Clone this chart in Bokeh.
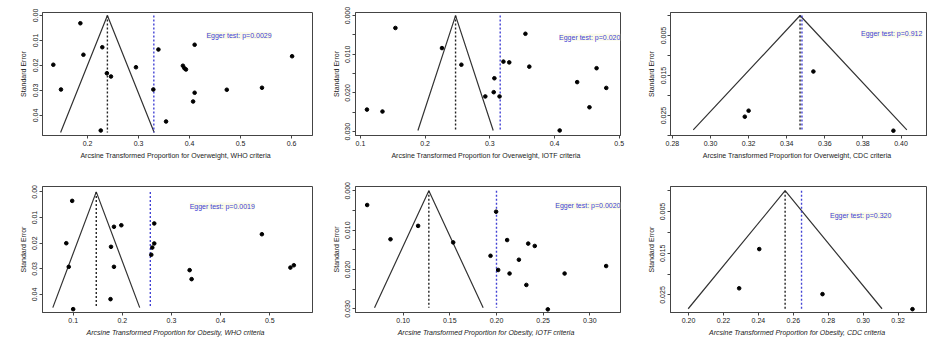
from bokeh.plotting import figure
from bokeh.layouts import column, row
from bokeh.models import Range1d, FixedTicker, Label
from bokeh.embed import file_html
from bokeh.resources import INLINE

# ---------------- data ----------------
# Overweight, WHO criteria
ow_who_x = [0.186, 0.192, 0.133, 0.148, 0.229, 0.238, 0.246, 0.226, 0.295, 0.329, 0.339,
            0.354, 0.387, 0.390, 0.393, 0.410, 0.410, 0.407, 0.473, 0.542, 0.601]
ow_who_se = [0.0031, 0.0157, 0.0197, 0.0296, 0.0127, 0.0231, 0.0244, 0.0460, 0.0207, 0.0296, 0.0136,
             0.0424, 0.0201, 0.0211, 0.0216, 0.0117, 0.0309, 0.0344, 0.0297, 0.0289, 0.0163]
# Overweight, IOTF criteria
ow_iotf_x = [0.154, 0.110, 0.134, 0.226, 0.256, 0.293, 0.307, 0.306, 0.315, 0.321, 0.330,
             0.355, 0.361, 0.408, 0.435, 0.454, 0.465, 0.480]
ow_iotf_se = [0.0032, 0.0243, 0.0248, 0.0084, 0.0127, 0.0209, 0.0162, 0.0198, 0.0209, 0.0119, 0.0121,
              0.0047, 0.0132, 0.0297, 0.0172, 0.0237, 0.0136, 0.0187]
# Overweight, CDC criteria
ow_cdc_x = [0.320, 0.318, 0.354, 0.396]
ow_cdc_se = [0.0238, 0.0253, 0.0140, 0.0288]
# Obesity, WHO criteria
ob_who_x = [0.098, 0.086, 0.091, 0.100, 0.183, 0.198, 0.177, 0.183, 0.176, 0.265, 0.265,
            0.261, 0.259, 0.337, 0.341, 0.484, 0.542, 0.549]
ob_who_se = [0.0035, 0.0200, 0.0292, 0.0457, 0.0136, 0.0130, 0.0214, 0.0292, 0.0418, 0.0123, 0.0201,
             0.0217, 0.0245, 0.0305, 0.0340, 0.0165, 0.0295, 0.0286]
# Obesity, IOTF criteria
ob_iotf_x = [0.0614, 0.0864, 0.116, 0.1536, 0.1936, 0.1996, 0.2018, 0.2114, 0.214, 0.224,
             0.234, 0.241, 0.232, 0.255, 0.273, 0.3175]
ob_iotf_se = [0.0036, 0.0123, 0.0089, 0.0131, 0.0165, 0.0053, 0.0201, 0.0125, 0.0210, 0.0175,
              0.0134, 0.0140, 0.0239, 0.0301, 0.0210, 0.0191]
# Obesity, CDC criteria
ob_cdc_x = [0.2405, 0.229, 0.2767, 0.3282]
ob_cdc_se = [0.0140, 0.0234, 0.0248, 0.0284]

# pooled estimates (fixed, random) and funnel depth
pooled_fixed = [0.239, 0.247, 0.347, 0.147, 0.1275, 0.2553]
pooled_random = [0.330, 0.316, 0.348, 0.257, 0.200, 0.2647]
funnel_se_max = [0.0468, 0.0297, 0.0286, 0.0451, 0.0297, 0.0283]

egger_texts = ["Egger test: p=0.0029", "Egger test: p=0.020", "Egger test: p=0.912",
               "Egger test: p=0.0019", "Egger test: p=0.0020", "Egger test: p=0.320"]

x_titles = ["Arcsine Transformed  Proportion for Overweight,  WHO criteria",
            "Arcsine Transformed  Proportion for Overweight,  IOTF criteria",
            "Arcsine Transformed  Proportion for Overweight,  CDC criteria",
            "Arcsine Transformed  Proportion for Obesity,  WHO criteria",
            "Arcsine Transformed  Proportion for Obesity,  IOTF criteria",
            "Arcsine Transformed  Proportion for Obesity,  CDC criteria"]

x_ticks = [[0.2, 0.3, 0.4, 0.5, 0.6],
           [0.1, 0.2, 0.3, 0.4, 0.5],
           [0.28, 0.30, 0.32, 0.34, 0.36, 0.38, 0.40],
           [0.1, 0.2, 0.3, 0.4, 0.5],
           [0.10, 0.15, 0.20, 0.25, 0.30],
           [0.20, 0.22, 0.24, 0.26, 0.28, 0.30, 0.32]]
x_tick_labels = [["0.2", "0.3", "0.4", "0.5", "0.6"],
                 ["0.1", "0.2", "0.3", "0.4", "0.5"],
                 ["0.28", "0.30", "0.32", "0.34", "0.36", "0.38", "0.40"],
                 ["0.1", "0.2", "0.3", "0.4", "0.5"],
                 ["0.10", "0.15", "0.20", "0.25", "0.30"],
                 ["0.20", "0.22", "0.24", "0.26", "0.28", "0.30", "0.32"]]
y_ticks = [[0.0, 0.01, 0.02, 0.03, 0.04],
           [0.0, 0.005, 0.01, 0.015, 0.02, 0.025, 0.03],
           [0.0, 0.005, 0.01, 0.015, 0.02, 0.025, 0.03],
           [0.0, 0.01, 0.02, 0.03, 0.04],
           [0.0, 0.005, 0.01, 0.015, 0.02, 0.025, 0.03],
           [0.0, 0.005, 0.01, 0.015, 0.02, 0.025, 0.03]]
y_tick_labels = [["0.00", "0.01", "0.02", "0.03", "0.04"],
                 ["0.000", "", "0.010", "", "0.020", "", "0.030"],
                 ["", "0.005", "", "0.015", "", "0.025", ""],
                 ["0.00", "0.01", "0.02", "0.03", "0.04"],
                 ["0.000", "", "0.010", "", "0.020", "", "0.030"],
                 ["", "0.005", "", "0.015", "", "0.025", ""]]

# ---------------- layout / style ----------------
x_ranges = [(0.1118, 0.641), (0.0923, 0.502), (0.279, 0.4139),
            (0.0376, 0.587), (0.0489, 0.3329), (0.1897, 0.3368)]
y_ranges = [(0.048, -0.0012), (0.031, -0.0008), (0.030, -0.00075),
            (0.047, -0.0021), (0.0309, -0.0011), (0.0292, -0.0010)]
egger_pos = [(0.433, 0.008), (0.407, 0.0056), (0.379, 0.0046),
             (0.337, 0.0055), (0.263, 0.0038), (0.281, 0.006)]
widths = [318, 310, 299]
borders_lr = [(42, 6), (37, 8), (42, 0)]
heights = [172, 172]
borders_tb = [(12, 37), (14, 32)]

FONT = "Liberation Sans"
BLUE = "#4242d4"


def make_panel(i, xs, ses):
    col = i % 3
    rw = i // 3
    p = figure(width=widths[col], height=heights[rw], output_backend="svg", toolbar_location=None,
               x_range=Range1d(*x_ranges[i]), y_range=Range1d(*y_ranges[i]),
               min_border_left=borders_lr[col][0], min_border_right=borders_lr[col][1],
               min_border_top=borders_tb[rw][0], min_border_bottom=borders_tb[rw][1])
    p.grid.visible = False
    p.outline_line_color = "#444444"
    p.background_fill_color = "white"

    c = pooled_fixed[i]
    sm = funnel_se_max[i]
    p.line([c - 1.96 * sm, c, c + 1.96 * sm], [sm, 0.0, sm], line_color="#333333", line_width=1.2)
    p.line([c, c], [0.0, sm], line_color="#222222", line_width=1.4, line_dash="2 2")
    r = pooled_random[i]
    p.line([r, r], [0.0, sm], line_color=BLUE, line_width=1.4, line_dash="2 2")

    p.scatter(xs, ses, size=3.6, color="black", marker="circle")

    ex, ey = egger_pos[i]
    p.add_layout(Label(x=ex, y=ey, text=egger_texts[i], text_color=BLUE, text_font=FONT,
                       text_font_size="7px", text_baseline="middle",
                       background_fill_color="#fbfbe6", background_fill_alpha=0.9))

    xa = p.xaxis[0]
    xa.ticker = FixedTicker(ticks=x_ticks[i])
    xa.major_label_overrides = dict(zip(x_ticks[i], x_tick_labels[i]))
    xa.axis_label = x_titles[i]
    xa.axis_label_text_font_style = "normal" if rw == 0 else "italic"
    ya = p.yaxis[0]
    ya.ticker = FixedTicker(ticks=y_ticks[i])
    ya.major_label_overrides = dict(zip(y_ticks[i], y_tick_labels[i]))
    ya.axis_label = "Standard Error"
    ya.axis_label_text_font_style = "normal"
    ya.major_label_orientation = "vertical"
    for ax in (xa, ya):
        ax.minor_tick_line_color = None
        ax.major_tick_out = 3
        ax.major_tick_in = 0
        ax.major_label_standoff = 2
        ax.axis_label_standoff = 3
        ax.axis_line_color = "#444444"
        ax.major_tick_line_color = "#444444"
        ax.major_label_text_font = FONT
        ax.major_label_text_font_size = "7px"
        ax.major_label_text_color = "#222222"
        ax.axis_label_text_font = FONT
        ax.axis_label_text_font_size = "7px"
        ax.axis_label_text_color = "#222222"
    return p


data = [(ow_who_x, ow_who_se), (ow_iotf_x, ow_iotf_se), (ow_cdc_x, ow_cdc_se),
        (ob_who_x, ob_who_se), (ob_iotf_x, ob_iotf_se), (ob_cdc_x, ob_cdc_se)]
panels = [make_panel(i, xs, ses) for i, (xs, ses) in enumerate(data)]

layout = column(row(*panels[:3]), row(*panels[3:]))
open("out.html", "w").write(file_html(layout, INLINE))
